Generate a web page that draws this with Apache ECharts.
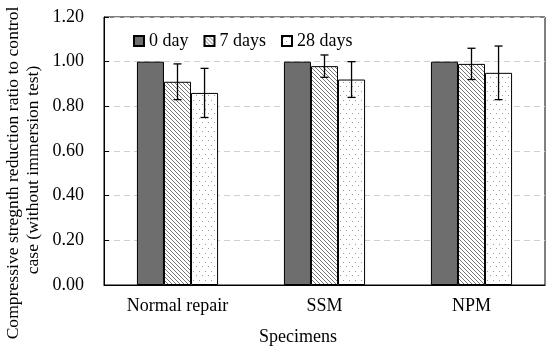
<!DOCTYPE html>
<html>
<head>
<meta charset="utf-8">
<script src="https://cdn.jsdelivr.net/npm/echarts@6/dist/echarts.min.js"></script>
<style>html,body{margin:0;padding:0;background:#fff;}#c{width:550px;height:356px;}</style>
</head>
<body>
<div id="c"></div>
<script>
const categories = ['Normal repair', 'SSM', 'NPM'];
const seriesNames = ['0 day', '7 days', '28 days'];
const day0 = [1.00, 1.00, 1.00];
const day7 = [0.91, 0.98, 0.99];
const day28 = [0.86, 0.92, 0.95];
const err7 = [0.08, 0.05, 0.07];
const err28 = [0.11, 0.08, 0.12];
const yTicks = [0, 0.2, 0.4, 0.6, 0.8, 1.0, 1.2];

function hatchPattern() {
  const c = document.createElement('canvas');
  c.width = 4; c.height = 4;
  const g = c.getContext('2d');
  g.fillStyle = '#fff'; g.fillRect(0, 0, 4, 4);
  g.fillStyle = '#777';
  for (let i = 0; i < 4; i++) { g.fillRect(i, i, 1, 1); }
  return c;
}
function dotPattern() {
  const c = document.createElement('canvas');
  c.width = 6; c.height = 9;
  const g = c.getContext('2d');
  g.fillStyle = '#fff'; g.fillRect(0, 0, 6, 9);
  g.fillStyle = '#999';
  g.fillRect(1, 1, 1, 1);
  g.fillRect(4, 5, 1, 1);
  return c;
}

const FONT = 'Liberation Serif';
const FS = 18;
const barFrac = 0.184;
const chart = echarts.init(document.getElementById('c'), null, {renderer: 'canvas'});

function errSeries(vals, errs, idx) {
  return {
    type: 'custom',
    silent: true,
    z: 10,
    data: vals.map((v, i) => [i, v, errs[i]]),
    renderItem: function (params, api) {
      const i = api.value(0), v = api.value(1), e = api.value(2);
      const band = api.size([1, 0])[0];
      const off = (idx - 1) * band * barFrac;
      const hi = api.coord([i, v + e]);
      const lo = api.coord([i, v - e]);
      const x = hi[0] + off;
      const cap = 4;
      const st = {stroke: '#000', lineWidth: 1.3};
      return {type: 'group', children: [
        {type: 'line', shape: {x1: x, y1: hi[1], x2: x, y2: lo[1]}, style: st},
        {type: 'line', shape: {x1: x - cap, y1: hi[1], x2: x + cap, y2: hi[1]}, style: st},
        {type: 'line', shape: {x1: x - cap, y1: lo[1], x2: x + cap, y2: lo[1]}, style: st}
      ]};
    }
  };
}

const option = {
  animation: false,
  backgroundColor: '#fff',
  textStyle: {fontFamily: FONT},
  grid: {left: 104, right: 5, top: 17, bottom: 71, show: true, borderColor: '#000', borderWidth: 1, containLabel: false},
  legend: {
    top: 27, left: 128,
    itemWidth: 10, itemHeight: 10, itemGap: 15,
    icon: 'rect',
    textStyle: {fontFamily: FONT, fontSize: FS, color: '#000'},
    data: seriesNames
  },
  xAxis: {
    type: 'category', data: categories,
    axisLine: {lineStyle: {color: '#000', width: 1}},
    axisTick: {show: false},
    axisLabel: {fontFamily: FONT, fontSize: FS, color: '#000', margin: 12}
  },
  yAxis: {
    type: 'value', min: 0, max: 1.2, interval: 0.2,
    axisLine: {show: true, lineStyle: {color: '#000', width: 1}},
    axisTick: {show: true, inside: true, length: 5, lineStyle: {color: '#000'}},
    axisLabel: {fontFamily: FONT, fontSize: FS, color: '#000', margin: 20,
      formatter: v => v.toFixed(2)},
    splitLine: {show: true, lineStyle: {color: '#d0d0d0', type: [6, 4], width: 1}}
  },
  graphic: [
    {type: 'text', x: 4, y: 173, rotation: Math.PI / 2,
      style: {text: 'Compressive stregnth reduction ratio to control', font: '17.6px "Liberation Serif"', fill: '#000', textAlign: 'center', textVerticalAlign: 'top'}},
    {type: 'text', x: 24, y: 170, rotation: Math.PI / 2,
      style: {text: 'case (without immersion test)', font: '17.6px "Liberation Serif"', fill: '#000', textAlign: 'center', textVerticalAlign: 'top'}},
    {type: 'text', x: 298, y: 337,
      style: {text: 'Specimens', font: FS + 'px "Liberation Serif"', fill: '#000', textAlign: 'center', textVerticalAlign: 'middle'}}
  ],
  series: [
    {name: seriesNames[0], type: 'bar', data: day0, barWidth: (barFrac * 100) + '%', barGap: '0%',
      itemStyle: {color: '#6e6e6e', borderColor: '#000', borderWidth: 1}},
    {name: seriesNames[1], type: 'bar', data: day7, barWidth: (barFrac * 100) + '%', barGap: '0%',
      itemStyle: {color: {image: hatchPattern(), repeat: 'repeat'}, borderColor: '#000', borderWidth: 1}},
    {name: seriesNames[2], type: 'bar', data: day28, barWidth: (barFrac * 100) + '%', barGap: '0%',
      itemStyle: {color: {image: dotPattern(), repeat: 'repeat'}, borderColor: '#000', borderWidth: 1}},
    errSeries(day7, err7, 1),
    errSeries(day28, err28, 2)
  ]
};
chart.setOption(option);
</script>
</body>
</html>
